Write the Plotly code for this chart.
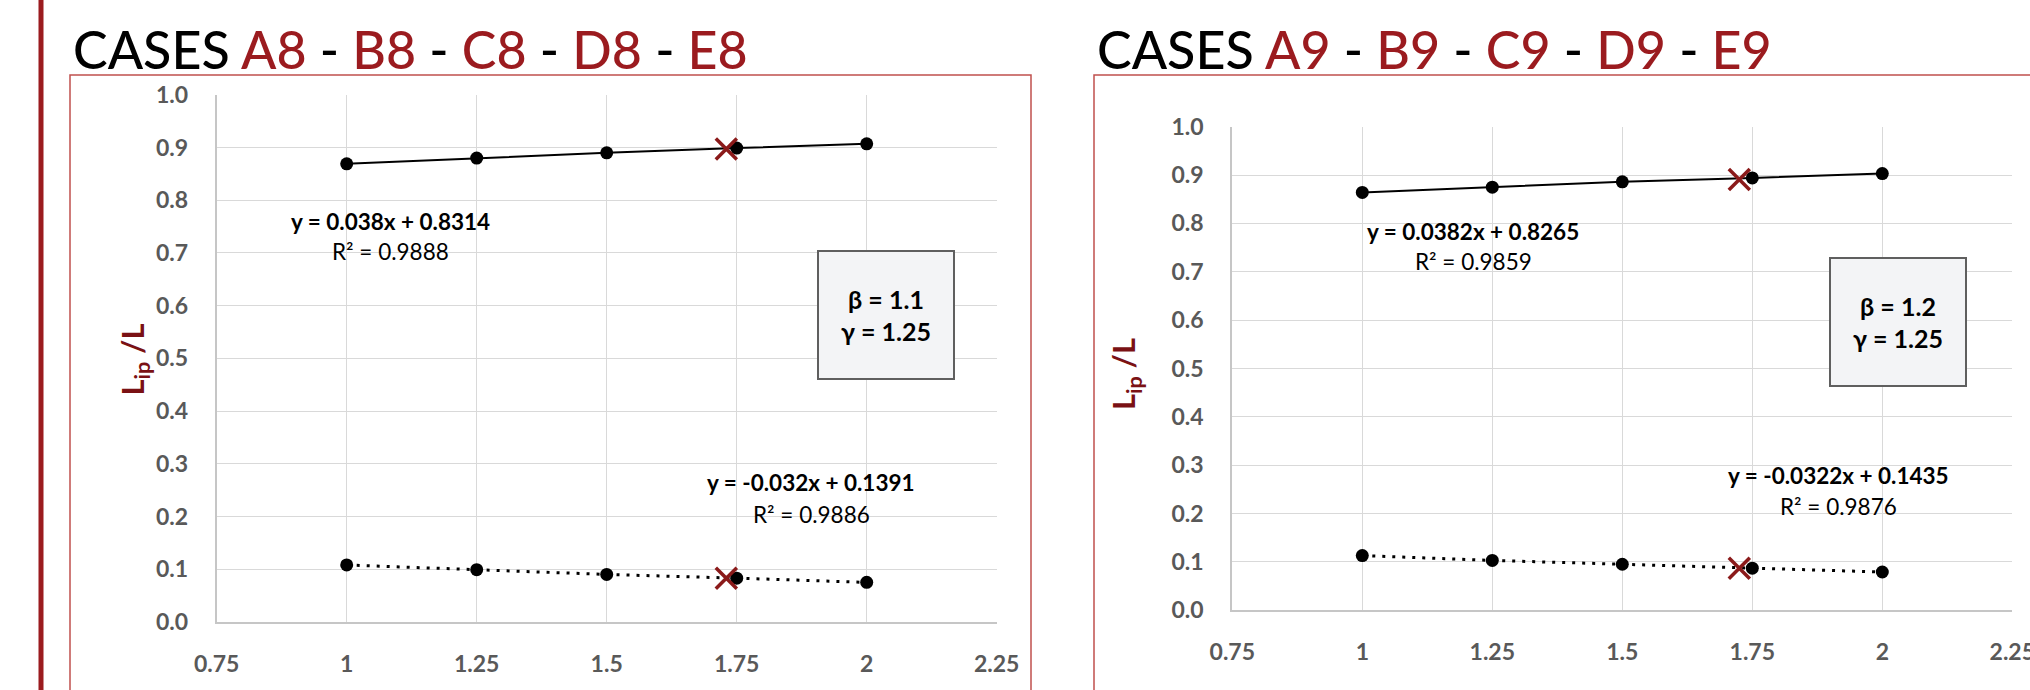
import plotly.graph_objects as go

W, H = 2030, 690

# ---- data ----
alpha = [1.0, 1.25, 1.5, 1.75, 2.0]
x_ticks = [0.75, 1.0, 1.25, 1.5, 1.75, 2.0, 2.25]
x_tick_text = ["0.75", "1", "1.25", "1.5", "1.75", "2", "2.25"]
y_ticks = [0.0, 0.1, 0.2, 0.3, 0.4, 0.5, 0.6, 0.7, 0.8, 0.9, 1.0]

upper_8 = [0.869, 0.880, 0.890, 0.899, 0.907]
lower_8 = [0.108, 0.099, 0.090, 0.083, 0.075]
cross_x_8 = [1.73, 1.73]
cross_y_8 = [0.897, 0.083]

upper_9 = [0.864, 0.875, 0.886, 0.894, 0.903]
lower_9 = [0.113, 0.103, 0.095, 0.087, 0.079]
cross_x_9 = [1.725, 1.725]
cross_y_9 = [0.891, 0.087]

eq_up_8 = ("y = 0.038x + 0.8314", "R² = 0.9888")
eq_lo_8 = ("y = -0.032x + 0.1391", "R² = 0.9886")
eq_up_9 = ("y = 0.0382x + 0.8265", "R² = 0.9859")
eq_lo_9 = ("y = -0.0322x + 0.1435", "R² = 0.9876")
params_8 = ("β = 1.1", "γ = 1.25")
params_9 = ("β = 1.2", "γ = 1.25")
cases_8 = ["A8", "B8", "C8", "D8", "E8"]
cases_9 = ["A9", "B9", "C9", "D9", "E9"]

RED = "#9B1B1F"
DARKRED = "#7A1114"
GRAY = "#595959"
FONT = "Lato"

fig = go.Figure()

def px_x(p):
    return p / W

def px_y(p):
    return 1 - p / H

panels = [
    dict(xa="x", ya="y", xd=[216.7, 996.7], yd=[621.9, 94.8],
         up=upper_8, lo=lower_8, cx=cross_x_8, cy=cross_y_8,
         eqs=[(eq_up_8, 1.085, 0.759, 0.702), (eq_lo_8, 1.893, 0.2648, 0.2047)],
         box=(params_8, 2.037, 0.583), ytitle=(110, 360)),
    dict(xa="x2", ya="y2", xd=[1232.3, 2012.3], yd=[610.2, 126.7],
         up=upper_9, lo=lower_9, cx=cross_x_9, cy=cross_y_9,
         eqs=[(eq_up_9, 1.213, 0.7828, 0.7208), (eq_lo_9, 1.915, 0.2796, 0.2141)],
         box=(params_9, 2.030, 0.596), ytitle=(1125, 374)),
]

annotations = []
for i, p in enumerate(panels):
    fig.add_trace(go.Scatter(x=alpha, y=p["up"], xaxis=p["xa"], yaxis=p["ya"],
                             mode="lines+markers", line=dict(color="black", width=2),
                             marker=dict(color="black", size=13), showlegend=False))
    fig.add_trace(go.Scatter(x=alpha, y=p["lo"], xaxis=p["xa"], yaxis=p["ya"],
                             mode="lines+markers", line=dict(color="black", width=3, dash="3px,7px"),
                             marker=dict(color="black", size=13), showlegend=False))
    fig.add_trace(go.Scatter(x=p["cx"], y=p["cy"], xaxis=p["xa"], yaxis=p["ya"],
                             mode="markers",
                             marker=dict(symbol="x-thin", size=21, color="#8B1A1A",
                                         line=dict(color="#8B1A1A", width=3.5)),
                             showlegend=False))
    for (eq, r2), ex, ey, ry in p["eqs"]:
        annotations.append(dict(x=ex, y=ey, xref=p["xa"], yref=p["ya"], text="<b>" + eq + "</b>",
                                showarrow=False, font=dict(family=FONT, size=22.5, color="black")))
        annotations.append(dict(x=ex, y=ry, xref=p["xa"], yref=p["ya"], text=r2,
                                showarrow=False, font=dict(family=FONT, size=22.5, color="black")))
    (b, g), bx, by = p["box"]
    annotations.append(dict(x=bx, y=by, xref=p["xa"], yref=p["ya"],
                            text="<b>" + b + "<br>" + g + "</b>", showarrow=False,
                            width=132, height=124, align="center", valign="middle",
                            bgcolor="#F3F4F6", bordercolor="#5F5F5F", borderwidth=2,
                            font=dict(family=FONT, size=25, color="black")))
    tx, ty = p["ytitle"]
    annotations.append(dict(x=px_x(tx), y=px_y(ty), xref="paper", yref="paper",
                            text="<b>L<sub>ip</sub> /L</b>", textangle=-90, showarrow=False,
                            font=dict(family=FONT, size=31, color=DARKRED)))

    sfx = "" if i == 0 else "2"
    axis_common = dict(showgrid=True, gridcolor="#D9D9D9", gridwidth=1.3, zeroline=False,
                       showline=True, linecolor="#C6C6C6", linewidth=2, automargin=False,
                       ticklabeloverflow="allow",
                       tickfont=dict(family=FONT, size=23, color=GRAY), ticks="")
    fig.update_layout(**{
        "xaxis" + sfx: dict(domain=[px_x(p["xd"][0]), px_x(p["xd"][1])], range=[0.75, 2.25],
                            tickvals=x_ticks, ticktext=[f"<b>{t}</b>" for t in x_tick_text],
                            anchor="y" + sfx, ticklabelstandoff=20, **axis_common),
        "yaxis" + sfx: dict(domain=[px_y(p["yd"][0]), px_y(p["yd"][1])], range=[0, 1],
                            tickvals=y_ticks, ticktext=[f"<b>{v:.1f}</b>" for v in y_ticks],
                            anchor="x" + sfx, ticklabelstandoff=22, **axis_common),
    })

def title_text(cases):
    parts = [f"<span style='color:{RED}'>{c}</span>" for c in cases]
    return "CASES " + " - ".join(parts)

annotations.append(dict(x=px_x(71), y=px_y(49), xref="paper", yref="paper", xanchor="left",
                        yanchor="middle", text=title_text(cases_8), showarrow=False,
                        font=dict(family=FONT, size=52, color="black", weight=500)))
annotations.append(dict(x=px_x(1095), y=px_y(49), xref="paper", yref="paper", xanchor="left",
                        yanchor="middle", text=title_text(cases_9), showarrow=False,
                        font=dict(family=FONT, size=52, color="black", weight=500)))
annotations.append(dict(x=px_x(1630), y=px_y(680), xref="paper", yref="paper", xanchor="center",
                        yanchor="top", text="<b><i>α</i></b>", showarrow=False,
                        font=dict(family=FONT, size=32, color=DARKRED)))

shapes = [
    dict(type="line", xref="paper", yref="paper", x0=px_x(41), x1=px_x(41), y0=0, y1=1,
         line=dict(color=RED, width=5)),
    dict(type="rect", xref="paper", yref="paper", x0=px_x(70), x1=px_x(1031), y0=px_y(720),
         y1=px_y(75), line=dict(color="#C0504D", width=1.5)),
    dict(type="rect", xref="paper", yref="paper", x0=px_x(1094), x1=px_x(2060), y0=px_y(720),
         y1=px_y(75), line=dict(color="#C0504D", width=1.5)),
]

fig.update_layout(width=W, height=H, autosize=False,
                  margin=dict(l=0, r=0, t=0, b=0, pad=0, autoexpand=False),
                  paper_bgcolor="white", plot_bgcolor="white",
                  annotations=annotations, shapes=shapes)

fig.write_html("out.html", config={"displayModeBar": False},
               post_script="document.body.style.margin='0';document.body.style.overflow='hidden';")
